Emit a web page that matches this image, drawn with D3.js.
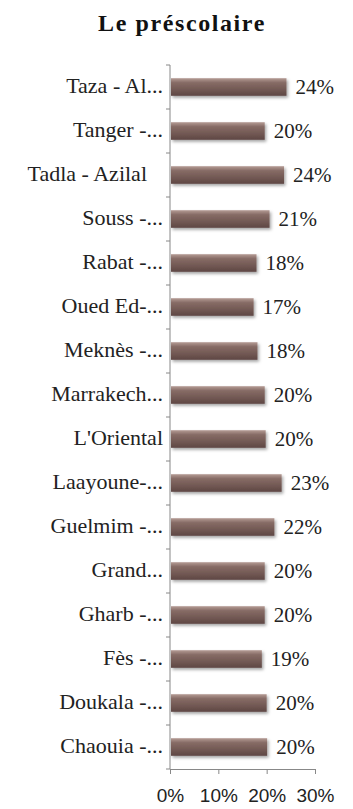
<!DOCTYPE html>
<html>
<head>
<meta charset="utf-8">
<script src="https://cdn.jsdelivr.net/npm/d3@7"></script>
<style>
  body { margin: 0; background: #fff; }
  svg { display: block; }
</style>
</head>
<body>
<svg id="chart" width="353" height="809"></svg>
<script>
// regions, top to bottom as shown
const regions = ["Taza - Al...", "Tanger -...", "Tadla - Azilal", "Souss -...", "Rabat -...",
  "Oued Ed-...", "Meknès -...", "Marrakech...", "L'Oriental", "Laayoune-...",
  "Guelmim -...", "Grand...", "Gharb -...", "Fès -...", "Doukala -...", "Chaouia -..."];
const shares = [0.241, 0.196, 0.236, 0.206, 0.179, 0.173, 0.181, 0.196, 0.198, 0.231,
  0.216, 0.196, 0.196, 0.19, 0.2, 0.201];
const xTicks = [0, 0.1, 0.2, 0.3];

const serif = "'Liberation Serif', 'DejaVu Serif', serif";
const svg = d3.select('#chart');

const x = d3.scaleLinear().domain([0, 0.3]).range([170, 315]);
const y = d3.scaleBand().domain(regions).range([65, 769]).paddingInner(0.6).paddingOuter(0.3);

// bar shading
const defs = svg.append('defs');
const grad = defs.append('linearGradient')
    .attr('id', 'barGrad').attr('x1', 0).attr('y1', 0).attr('x2', 0).attr('y2', 1);
grad.append('stop').attr('offset', '0%').attr('stop-color', '#b59c95');
grad.append('stop').attr('offset', '25%').attr('stop-color', '#876c66');
grad.append('stop').attr('offset', '70%').attr('stop-color', '#6f5651');
grad.append('stop').attr('offset', '100%').attr('stop-color', '#5e4744');
const shadow = defs.append('filter').attr('id', 'shadow')
    .attr('x', '-10%').attr('y', '-30%').attr('width', '130%').attr('height', '190%');
shadow.append('feDropShadow').attr('dx', 1.5).attr('dy', 2).attr('stdDeviation', 1.5)
    .attr('flood-color', '#000').attr('flood-opacity', 0.35);

// title
svg.append('text')
    .attr('x', 182).attr('y', 31)
    .attr('text-anchor', 'middle')
    .style('font-family', serif)
    .attr('font-weight', 'bold')
    .attr('font-size', '24px')
    .attr('letter-spacing', '1.6px')
    .attr('fill', '#111')
    .text('Le préscolaire');

// bars
svg.selectAll('.bar')
    .data(regions)
    .enter().append('rect')
    .attr('class', 'bar')
    .attr('x', x(0) + 1)
    .attr('y', d => y(d))
    .attr('width', (d, i) => x(shares[i]) - x(0) - 1)
    .attr('height', y.bandwidth())
    .attr('fill', 'url(#barGrad)')
    .attr('filter', 'url(#shadow)');

// value labels
svg.selectAll('.val')
    .data(regions)
    .enter().append('text')
    .attr('class', 'val')
    .attr('x', (d, i) => x(shares[i]) + 9)
    .attr('y', d => y(d) + y.bandwidth() / 2 + 6.5)
    .style('font-family', serif)
    .attr('font-size', '21px')
    .attr('fill', '#222')
    .text((d, i) => Math.round(shares[i] * 100) + '%');

// category axis
const yAxis = svg.append('g').attr('transform', 'translate(170,0)');
yAxis.append('line')
    .attr('y1', 65).attr('y2', 769)
    .attr('stroke', '#888');
const bounds = regions.map(d => y(d) - y.step() * y.paddingInner() / 2).concat([769]);
yAxis.selectAll('.tk')
    .data(bounds)
    .enter().append('line')
    .attr('x1', -4).attr('x2', 0)
    .attr('y1', d => d).attr('y2', d => d)
    .attr('stroke', '#888');
yAxis.selectAll('.lbl')
    .data(regions)
    .enter().append('text')
    .attr('x', d => d === 'Tadla - Azilal' ? -23 : -7)
    .attr('y', d => y(d) + y.bandwidth() / 2 + 5.5)
    .attr('text-anchor', 'end')
    .style('font-family', serif)
    .attr('font-size', '22px')
    .attr('fill', '#222')
    .text(d => d);

// value axis
const xAxis = svg.append('g').attr('transform', 'translate(0,769)')
    .call(d3.axisBottom(x).tickValues(xTicks).tickFormat(d3.format('.0%')).tickSize(5).tickSizeOuter(0));
xAxis.select('.domain').attr('stroke', '#888');
xAxis.selectAll('.tick line').attr('stroke', '#888');
xAxis.selectAll('.tick text')
    .attr('y', 33).attr('dy', 0)
    .style('font-family', "'Liberation Sans', sans-serif")
    .attr('font-size', '19px')
    .attr('fill', '#222');
</script>
</body>
</html>
